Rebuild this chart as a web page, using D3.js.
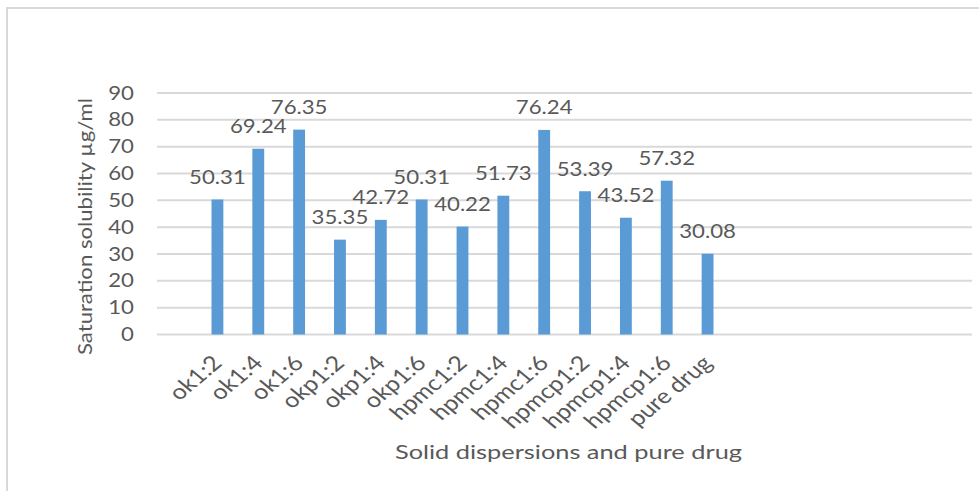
<!DOCTYPE html>
<html>
<head>
<meta charset="utf-8">
<script src="https://cdn.jsdelivr.net/npm/d3@7/dist/d3.min.js"></script>
<style>
  html, body { margin: 0; padding: 0; background: #fff; }
  svg { display: block; }
  text { font-family: Lato, "Open Sans", sans-serif; fill: #595959; }
</style>
</head>
<body>
<svg id="chart" width="979" height="491"></svg>
<script>
// Saturation solubility of each solid dispersion and of the pure drug
const categories = ["ok1:2", "ok1:4", "ok1:6", "okp1:2", "okp1:4", "okp1:6",
  "hpmc1:2", "hpmc1:4", "hpmc1:6", "hpmcp1:2", "hpmcp1:4", "hpmcp1:6", "pure drug"];
const solubility = [50.31, 69.24, 76.35, 35.35, 42.72, 50.31,
  40.22, 51.73, 76.24, 53.39, 43.52, 57.32, 30.08];
const yTicks = [0, 10, 20, 30, 40, 50, 60, 70, 80, 90];
const yTitle = "Saturation solubility µg/ml";
const xTitle = "Solid dispersions and pure drug";

const svg = d3.select("#chart");
const textStretch = 1.2;   // text glyphs are drawn a little wide

// chart frame
svg.append("rect")
  .attr("x", 7).attr("y", 8).attr("width", 1000).attr("height", 520)
  .attr("fill", "none").attr("stroke", "#d9d9d9").attr("stroke-width", 2);

const plot = { left: 157, right: 972, top: 93, bottom: 334.5 };

const y = d3.scaleLinear().domain([0, 90]).range([plot.bottom, plot.top]);
const x = d3.scaleBand().domain(categories)
  .range([197, 728]).paddingInner(0.71).paddingOuter(0.355);

// horizontal gridlines
svg.append("g").selectAll("line").data(yTicks).join("line")
  .attr("x1", plot.left).attr("x2", plot.right)
  .attr("y1", d => y(d)).attr("y2", d => y(d))
  .attr("stroke", "#d9d9d9").attr("stroke-width", 2);

// y tick labels
svg.append("g").selectAll("text").data(yTicks).join("text")
  .attr("transform", d => `translate(134,${y(d) + 6.5}) scale(${textStretch},1)`)
  .attr("text-anchor", "end")
  .attr("font-size", 18.5)
  .text(d => d);

// bars
svg.append("g").selectAll("rect").data(solubility).join("rect")
  .attr("x", (d, i) => x(categories[i]))
  .attr("width", x.bandwidth())
  .attr("y", d => y(d))
  .attr("height", d => y(0) - y(d))
  .attr("fill", "#5b9bd5");

// value labels
svg.append("g").selectAll("text").data(solubility).join("text")
  .attr("transform", (d, i) =>
    `translate(${x(categories[i]) + x.bandwidth() / 2},${y(d) - 15.5}) scale(${textStretch},1)`)
  .attr("text-anchor", "middle")
  .attr("font-size", 18.5)
  .text(d => d.toFixed(2));

// category labels, slanted
svg.append("g").selectAll("text").data(categories).join("text")
  .attr("transform", d =>
    `translate(${x(d) + x.bandwidth() / 2 + 6},${plot.bottom + 30}) scale(${textStretch},1) rotate(-45)`)
  .attr("text-anchor", "end")
  .attr("font-size", 21)
  .text(d => d);

// axis titles
svg.append("text")
  .attr("transform", `translate(92,${(98 + 355) / 2}) rotate(-90)`)
  .attr("text-anchor", "middle")
  .attr("font-size", 20)
  .attr("textLength", 257).attr("lengthAdjust", "spacingAndGlyphs")
  .text(yTitle);

svg.append("text")
  .attr("x", (395 + 742) / 2).attr("y", 459)
  .attr("text-anchor", "middle")
  .attr("font-size", 20)
  .attr("textLength", 347).attr("lengthAdjust", "spacingAndGlyphs")
  .text(xTitle);
</script>
</body>
</html>
